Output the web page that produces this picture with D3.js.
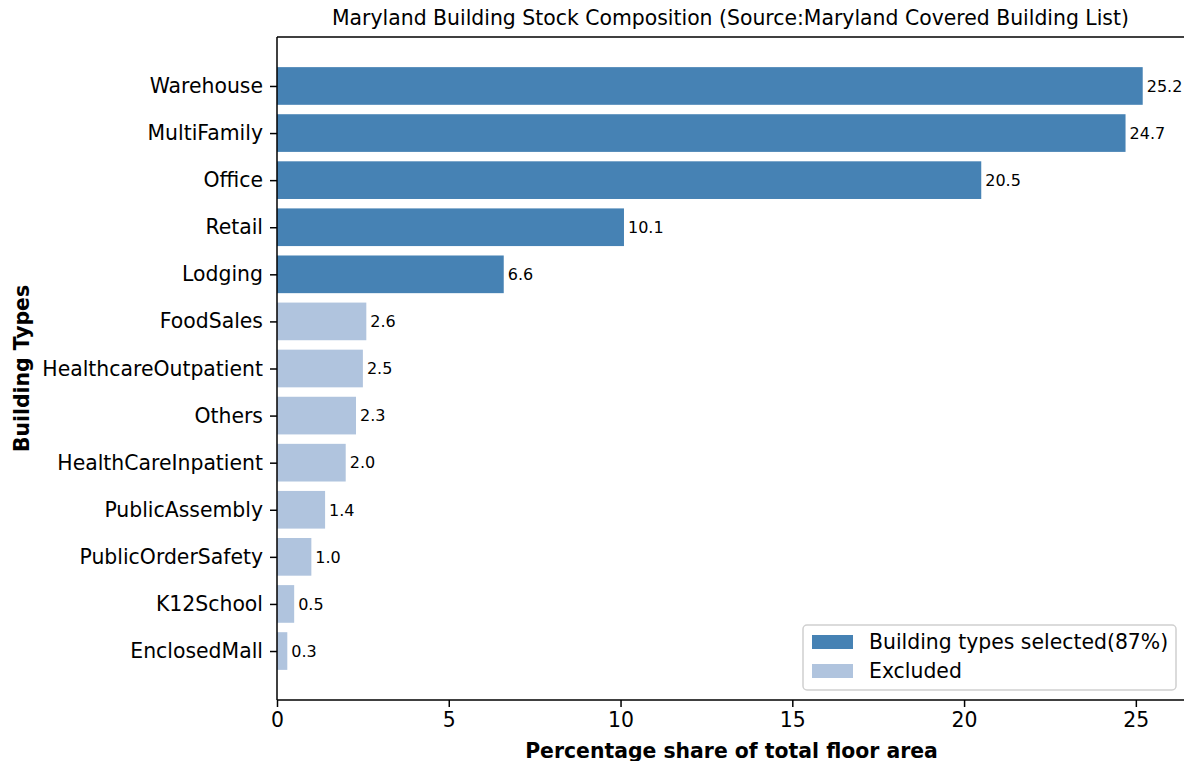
<!DOCTYPE html>
<html>
<head>
<meta charset="utf-8">
<script src="https://cdn.jsdelivr.net/npm/d3@7"></script>
<style>
	body { margin: 0; background: #fff; }
	svg { display: block; font-family: "DejaVu Sans", sans-serif; }
</style>
</head>
<body>
<svg id="chart" width="1184" height="761"></svg>
<script>
// Data (top bar first)
const building_types = ["Warehouse", "MultiFamily", "Office", "Retail", "Lodging", "FoodSales",
	"HealthcareOutpatient", "Others", "HealthCareInpatient", "PublicAssembly",
	"PublicOrderSafety", "K12School", "EnclosedMall"];
const shares = [25.2, 24.7, 20.5, 10.1, 6.6, 2.6, 2.5, 2.3, 2.0, 1.4, 1.0, 0.5, 0.3];
const selected = [true, true, true, true, true, false, false, false, false, false, false, false, false];
const x_ticks = [0, 5, 10, 15, 20, 25];
const legend_labels = ["Building types selected(87%)", "Excluded"];

const COLOR_SELECTED = "#4682b4";
const COLOR_EXCLUDED = "#b0c4de";
const FONT = "20.4px";

function whenDocumentLoaded(action) {
	if (document.readyState === "loading") {
		document.addEventListener("DOMContentLoaded", action);
	} else {
		action();
	}
}

function drawChart(svg_id) {
	const svg = d3.select("#" + svg_id);
	const left = 277, right = 1186, top = 37, bottom = 700;

	const data = building_types.map((name, i) => ({ name: name, value: shares[i], sel: selected[i], idx: i }));

	// matplotlib style margins: 5% around the data
	const x_max = d3.max(shares) * 1.05;
	const x = d3.scaleLinear().domain([0, x_max]).range([left, right]);
	const n = data.length;
	const span = (n - 1) + 0.8;
	const y = d3.scaleLinear()
		.domain([-0.4 - span * 0.05, n - 1 + 0.4 + span * 0.05])
		.range([top, bottom]);
	const bar_h = y(0.8) - y(0);

	// bars
	svg.append("g")
		.selectAll("rect")
		.data(data)
		.enter()
		.append("rect")
			.attr("x", x(0))
			.attr("y", d => y(d.idx) - bar_h / 2)
			.attr("width", d => x(d.value) - x(0))
			.attr("height", bar_h)
			.attr("fill", d => d.sel ? COLOR_SELECTED : COLOR_EXCLUDED);

	// value labels
	svg.append("g")
		.selectAll("text")
		.data(data)
		.enter()
		.append("text")
			.attr("x", d => x(d.value) + 4)
			.attr("y", d => y(d.idx))
			.attr("dy", "0.36em")
			.attr("font-size", "16px")
			.attr("fill", "#000")
			.text(d => d.value.toFixed(1));

	// axes
	const xAxis = d3.axisBottom(x).tickValues(x_ticks).tickSize(7).tickPadding(6).tickFormat(d3.format("d"));
	const gx = svg.append("g").attr("transform", `translate(0,${bottom})`).call(xAxis);
	gx.select(".domain").remove();
	gx.selectAll("line").attr("stroke", "#000").attr("stroke-width", 1.5);
	gx.selectAll("text").attr("font-size", FONT).attr("fill", "#000").attr("font-family", "DejaVu Sans");

	const yAxis = d3.axisLeft(y).tickValues(data.map(d => d.idx)).tickSize(7).tickPadding(7)
		.tickFormat(i => building_types[i]);
	const gy = svg.append("g").attr("transform", `translate(${left},0)`).call(yAxis);
	gy.select(".domain").remove();
	gy.selectAll("line").attr("stroke", "#000").attr("stroke-width", 1.5);
	gy.selectAll("text").attr("font-size", FONT).attr("fill", "#000").attr("font-family", "DejaVu Sans");

	// spines
	const spines = svg.append("g").attr("stroke", "#000").attr("stroke-width", 1.5);
	spines.append("line").attr("x1", left).attr("x2", left).attr("y1", top).attr("y2", bottom);
	spines.append("line").attr("x1", left).attr("x2", right).attr("y1", bottom).attr("y2", bottom);
	spines.append("line").attr("x1", left).attr("x2", right).attr("y1", top).attr("y2", top);
	spines.append("line").attr("x1", right).attr("x2", right).attr("y1", top).attr("y2", bottom);

	// title and axis labels
	svg.append("text")
		.attr("x", (left + right) / 2 - 1)
		.attr("y", 25)
		.attr("text-anchor", "middle")
		.attr("font-size", FONT)
		.text("Maryland Building Stock Composition (Source:Maryland Covered Building List)");

	svg.append("text")
		.attr("x", (left + right) / 2)
		.attr("y", 758)
		.attr("text-anchor", "middle")
		.attr("font-size", FONT)
		.attr("font-weight", "bold")
		.text("Percentage share of total floor area");

	svg.append("text")
		.attr("transform", `translate(29,${(top + bottom) / 2}) rotate(-90)`)
		.attr("text-anchor", "middle")
		.attr("font-size", FONT)
		.attr("font-weight", "bold")
		.text("Building Types");

	// legend
	const legend = svg.append("g").attr("transform", "translate(803,625)");
	legend.append("rect")
		.attr("width", 373).attr("height", 65)
		.attr("rx", 4)
		.attr("fill", "#fff").attr("fill-opacity", 0.8)
		.attr("stroke", "#d0d0d0").attr("stroke-width", 1.5);
	const items = legend.selectAll(".item")
		.data(legend_labels)
		.enter()
		.append("g")
			.attr("class", "item")
			.attr("transform", (d, i) => `translate(0,${i * 29})`);
	items.append("rect")
		.attr("x", 9).attr("y", 10)
		.attr("width", 41).attr("height", 14)
		.attr("fill", (d, i) => i === 0 ? COLOR_SELECTED : COLOR_EXCLUDED);
	items.append("text")
		.attr("x", 66).attr("y", 24)
		.attr("font-size", FONT)
		.text(d => d);
}

whenDocumentLoaded(() => {
	drawChart("chart");
});
</script>
</body>
</html>
